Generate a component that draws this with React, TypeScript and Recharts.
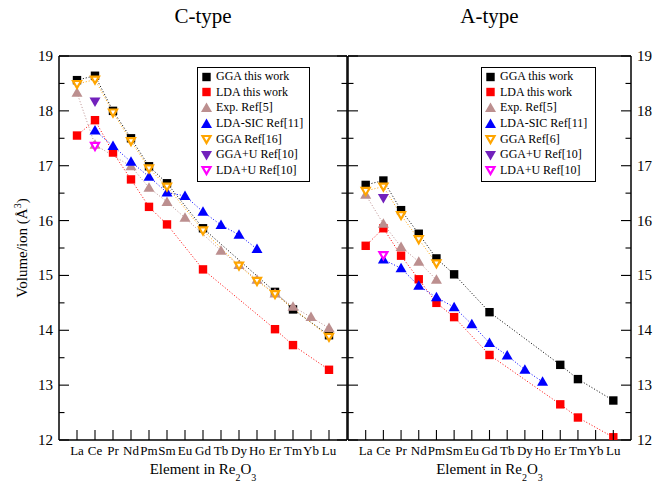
import { Legend, Line, LineChart, ReferenceLine, XAxis, YAxis } from 'recharts'

const ELEMENTS = ['La', 'Ce', 'Pr', 'Nd', 'Pm', 'Sm', 'Eu', 'Gd', 'Tb', 'Dy', 'Ho', 'Er', 'Tm', 'Yb', 'Lu']
const X_TICKS = [1, 2, 3, 4, 5, 6, 7, 8, 9, 10, 11, 12, 13, 14, 15]
const Y_TICKS = [12, 12.5, 13, 13.5, 14, 14.5, 15, 15.5, 16, 16.5, 17, 17.5, 18, 18.5, 19]

// C-type, one value per element (La..Lu), null = no point
const C_GGA = [18.56, 18.64, 18.0, 17.5, 16.99, 16.68, null, 15.86, null, null, null, 14.7, 14.38, null, 13.91]
const C_LDA = [17.55, 17.83, 17.24, 16.75, 16.25, 15.93, null, 15.11, null, null, null, 14.02, 13.73, null, 13.28]
const C_EXP = [18.33, 17.38, null, 16.99, 16.6, 16.34, 16.05, null, 15.45, 15.19, 14.92, 14.67, 14.43, 14.24, 14.04]
const C_SIC = [null, 17.64, 17.36, 17.07, 16.8, 16.51, 16.45, 16.16, 15.92, 15.74, 15.48, null, null, null, null]
const C_GGA_REF = [18.49, 18.57, 17.97, 17.45, 16.95, 16.62, null, 15.82, null, 15.18, 14.9, 14.66, null, null, 13.88]
const C_GGAU = [null, 18.17, null, null, null, null, null, null, null, null, null, null, null, null, null]
const C_LDAU = [null, 17.36, null, null, null, null, null, null, null, null, null, null, null, null, null]

// A-type
const A_GGA = [16.65, 16.73, 16.19, 15.76, 15.31, 15.02, null, 14.33, null, null, null, 13.37, 13.11, null, 12.72]
const A_LDA = [15.54, 15.86, 15.36, 14.93, 14.5, 14.24, null, 13.55, null, null, null, 12.65, 12.41, null, 12.05]
const A_EXP = [16.47, 15.94, 15.52, 15.25, 14.92, null, null, null, null, null, null, null, null, null, null]
const A_SIC = [null, 15.29, 15.13, 14.81, 14.6, 14.42, 14.11, 13.77, 13.54, 13.28, 13.06, null, null, null, null]
const A_GGA_REF = [16.54, 16.62, 16.1, 15.66, 15.22, null, null, null, null, null, null, null, null, null, null]
const A_GGAU = [null, 16.41, null, null, null, null, null, null, null, null, null, null, null, null, null]
const A_LDAU = [null, 15.37, null, null, null, null, null, null, null, null, null, null, null, null, null]

type Shape = 'square' | 'up' | 'down' | 'downOpen'
type Series = { key: string; name: string; color: string; shape: Shape; line: boolean; values: (number | null)[] }

const C_SERIES: Series[] = [
  { key: 'gga', name: 'GGA this work', color: '#000000', shape: 'square', line: true, values: C_GGA },
  { key: 'lda', name: 'LDA this work', color: '#ff0000', shape: 'square', line: true, values: C_LDA },
  { key: 'exp', name: 'Exp. Ref[5]', color: '#bc8f8f', shape: 'up', line: true, values: C_EXP },
  { key: 'sic', name: 'LDA-SIC Ref[11]', color: '#0000ff', shape: 'up', line: true, values: C_SIC },
  { key: 'ggaRef', name: 'GGA Ref[16]', color: '#ffa500', shape: 'downOpen', line: true, values: C_GGA_REF },
  { key: 'ggau', name: 'GGA+U Ref[10]', color: '#7221bc', shape: 'down', line: false, values: C_GGAU },
  { key: 'ldau', name: 'LDA+U Ref[10]', color: '#ff00ff', shape: 'downOpen', line: false, values: C_LDAU },
]

const A_SERIES: Series[] = [
  { key: 'gga', name: 'GGA this work', color: '#000000', shape: 'square', line: true, values: A_GGA },
  { key: 'lda', name: 'LDA this work', color: '#ff0000', shape: 'square', line: true, values: A_LDA },
  { key: 'exp', name: 'Exp. Ref[5]', color: '#bc8f8f', shape: 'up', line: true, values: A_EXP },
  { key: 'sic', name: 'LDA-SIC Ref[11]', color: '#0000ff', shape: 'up', line: true, values: A_SIC },
  { key: 'ggaRef', name: 'GGA Ref[6]', color: '#ffa500', shape: 'downOpen', line: true, values: A_GGA_REF },
  { key: 'ggau', name: 'GGA+U Ref[10]', color: '#7221bc', shape: 'down', line: false, values: A_GGAU },
  { key: 'ldau', name: 'LDA+U Ref[10]', color: '#ff00ff', shape: 'downOpen', line: false, values: A_LDAU },
]

const FONT = '"Liberation Serif", "Times New Roman", serif'
const H = 483

function buildRows(series: Series[]) {
  return ELEMENTS.map((el, i) => {
    const row: Record<string, number | string | null> = { x: i + 1, el }
    series.forEach((s) => {
      row[s.key] = s.values[i]
    })
    return row
  })
}

function Marker({ shape, color, cx, cy }: { shape: Shape; color: string; cx: number; cy: number }) {
  if (shape === 'square') return <rect x={cx - 4.2} y={cy - 4.2} width={8.4} height={8.4} fill={color} />
  if (shape === 'up')
    return <polygon points={`${cx},${cy - 5.5} ${cx + 5.5},${cy + 4} ${cx - 5.5},${cy + 4}`} fill={color} />
  if (shape === 'down')
    return <polygon points={`${cx - 5.5},${cy - 4} ${cx + 5.5},${cy - 4} ${cx},${cy + 5.5}`} fill={color} />
  return (
    <polygon
      points={`${cx - 4},${cy - 3} ${cx + 4},${cy - 3} ${cx},${cy + 4}`}
      fill="#fff"
      stroke={color}
      strokeWidth={2.2}
      strokeLinejoin="miter"
    />
  )
}

function XTick(props: any) {
  const { x, y, payload } = props
  return (
    <g>
      <line x1={x} x2={x} y1={y} y2={y - 10} stroke="#000" strokeWidth={1.1} />
      <text x={x} y={y + 15} textAnchor="middle" fontSize={13} fill="#000">
        {ELEMENTS[payload.value - 1]}
      </text>
    </g>
  )
}

function YTick(props: any) {
  const { x, y, payload, side, labels } = props
  const major = Number.isInteger(payload.value)
  const len = major ? 10 : 5.5
  const dir = side === 'left' ? 1 : -1
  return (
    <g>
      <line x1={x} x2={x + dir * len} y1={y} y2={y} stroke="#000" strokeWidth={1.1} />
      {major && labels && (
        <text x={x - dir * 6} y={y + 5} textAnchor={side === 'left' ? 'end' : 'start'} fontSize={15} fill="#000">
          {payload.value}
        </text>
      )}
    </g>
  )
}

function LegendBox({ series, width }: { series: Series[]; width: number }) {
  return (
    <div
      style={{
        border: '1px solid #000',
        background: '#fff',
        padding: '1px 0 3px 0',
        width,
        fontFamily: FONT,
        fontSize: 12,
        color: '#000',
      }}
    >
      {series.map((s) => (
        <div key={s.key} style={{ display: 'flex', alignItems: 'center', height: 15.6 }}>
          <svg width={18} height={14} style={{ flex: 'none' }}>
            <Marker shape={s.shape} color={s.color} cx={8.5} cy={7} />
          </svg>
          <span style={{ whiteSpace: 'nowrap' }}>{s.name}</span>
        </div>
      ))}
    </div>
  )
}

type PanelProps = {
  title: string
  series: Series[]
  width: number
  margin: { top: number; right: number; bottom: number; left: number }
  leftAxisWidth: number
  rightAxisWidth: number
  leftLabels: boolean
  rightLabels: boolean
  leftStroke: number
  rightStroke: number
  legendLeft: number
  legendWidth: number
  yTitle?: boolean
}

function Panel(p: PanelProps) {
  const data = buildRows(p.series)
  const plotLeft = p.margin.left + p.leftAxisWidth
  const plotRight = p.width - p.margin.right - p.rightAxisWidth
  const cx = (plotLeft + plotRight) / 2
  return (
    <LineChart width={p.width} height={H} data={data} margin={p.margin}>
      <XAxis
        dataKey="x"
        type="number"
        domain={[0, 16]}
        ticks={X_TICKS}
        interval={0}
        allowDataOverflow
        height={30}
        tickSize={0}
        tickMargin={0}
        tickLine={false}
        axisLine={{ stroke: '#000', strokeWidth: 1.5 }}
        tick={(t: any) => <XTick {...t} />}
      />
      <YAxis
        yAxisId="l"
        orientation="left"
        width={p.leftAxisWidth}
        domain={[12, 19]}
        ticks={Y_TICKS}
        interval={0}
        allowDataOverflow
        tickSize={0}
        tickMargin={0}
        tickLine={false}
        axisLine={{ stroke: '#000', strokeWidth: p.leftStroke }}
        tick={(t: any) => <YTick {...t} side="left" labels={p.leftLabels} />}
      />
      <YAxis
        yAxisId="r"
        orientation="right"
        width={p.rightAxisWidth}
        domain={[12, 19]}
        ticks={Y_TICKS}
        interval={0}
        allowDataOverflow
        tickSize={0}
        tickMargin={0}
        tickLine={false}
        axisLine={{ stroke: '#000', strokeWidth: p.rightStroke }}
        tick={(t: any) => <YTick {...t} side="right" labels={p.rightLabels} />}
      />
      <ReferenceLine yAxisId="l" y={19} stroke="#000" strokeWidth={1.5} />
      {p.series.map((s) => (
        <Line
          key={s.key}
          yAxisId="l"
          type="linear"
          dataKey={s.key}
          name={s.name}
          stroke={s.line ? s.color : 'none'}
          strokeWidth={1}
          strokeDasharray="1 2"
          connectNulls
          isAnimationActive={false}
          activeDot={false}
          dot={(d: any) =>
            d.value == null || d.cy == null ? (
              <g key={`${s.key}-${d.index}`} />
            ) : (
              <g key={`${s.key}-${d.index}`}>
                <Marker shape={s.shape} color={s.color} cx={d.cx} cy={d.cy} />
              </g>
            )
          }
        />
      ))}
      <Legend
        layout="vertical"
        align="center"
        verticalAlign="middle"
        wrapperStyle={{ left: p.legendLeft, top: 67, width: p.legendWidth }}
        content={() => <LegendBox series={p.series} width={p.legendWidth} />}
      />
      <text x={cx} y={23} textAnchor="middle" fontSize={21} fill="#000">
        {p.title}
      </text>
      <text x={cx} y={474} textAnchor="middle" fontSize={15} fill="#000">
        Element in Re
        <tspan dy={7} fontSize={10}>
          2
        </tspan>
        <tspan dy={-7}>O</tspan>
        <tspan dy={7} fontSize={10}>
          3
        </tspan>
      </text>
      {p.yTitle && (
        <text x={27} y={248} transform="rotate(-90, 27, 248)" textAnchor="middle" fontSize={15} fill="#000">
          Volume/ion (Å
          <tspan dy={-6} fontSize={10}>
            3
          </tspan>
          <tspan dy={6}>)</tspan>
        </text>
      )}
    </LineChart>
  )
}

export default function App() {
  return (
    <div
      style={{
        position: 'absolute',
        left: 0,
        top: 0,
        width: 671,
        height: H,
        background: '#fff',
        fontFamily: FONT,
      }}
    >
      <div style={{ position: 'absolute', left: 0, top: 0 }}>
        <Panel
          title="C-type"
          series={C_SERIES}
          width={350}
          margin={{ top: 56, right: 2, bottom: 13, left: 19 }}
          leftAxisWidth={40}
          rightAxisWidth={1}
          leftLabels
          rightLabels={false}
          leftStroke={1.5}
          rightStroke={1.5}
          legendLeft={197}
          legendWidth={111}
          yTitle
        />
      </div>
      <div style={{ position: 'absolute', left: 340, top: 0 }}>
        <Panel
          title="A-type"
          series={A_SERIES}
          width={331}
          margin={{ top: 56, right: 10, bottom: 13, left: 7 }}
          leftAxisWidth={1}
          rightAxisWidth={30}
          leftLabels={false}
          rightLabels
          leftStroke={1.5}
          rightStroke={1.5}
          legendLeft={141}
          legendWidth={113}
        />
      </div>
    </div>
  )
}
